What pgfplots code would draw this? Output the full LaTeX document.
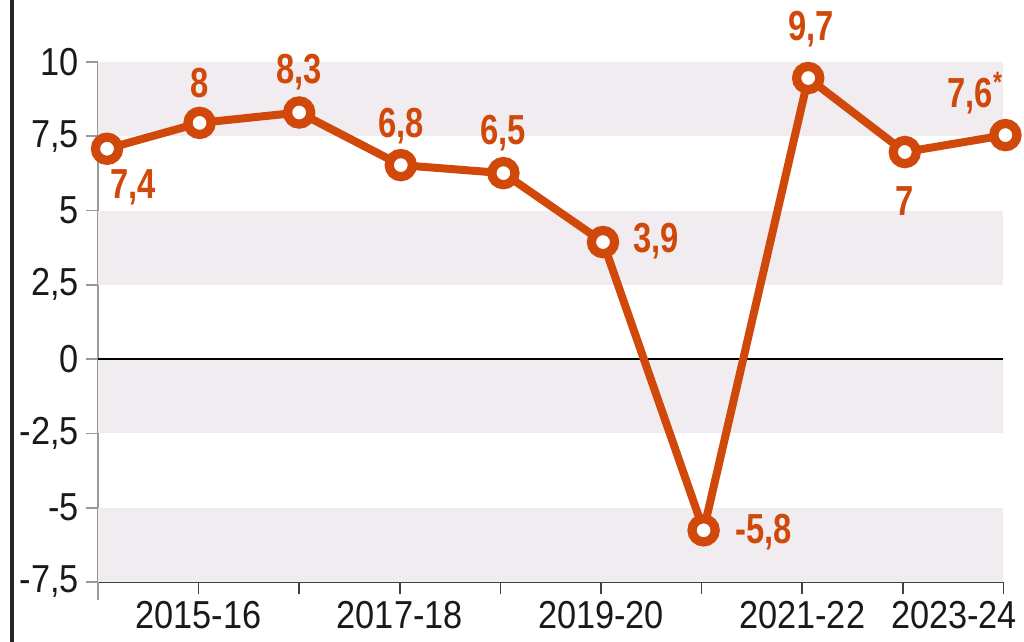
\documentclass[border=0pt]{standalone}
\usepackage{fontspec}
\setmainfont{Liberation Sans}
\newfontfamily\ticfont[FakeStretch=0.88]{Liberation Sans}
\newfontfamily\labfont[FakeStretch=0.78]{Liberation Sans}
\usepackage{pgfplots}
\pgfplotsset{compat=1.18}
\usepackage{pgfplotstable}
\definecolor{gdp}{RGB}{208,73,10}
\definecolor{band}{RGB}{240,236,239}

\pgfplotstableread{
x y dx dy label
0.09 7.08 13 -19.5 {7,4}
1.01 7.95 0 20 {8}
2.00 8.30 0 20 {8,3}
3.01 6.53 0 19.5 {6,8}
4.03 6.26 0 20 {6,5}
5.02 3.94 26.5 0.5 {3,9}
6.02 -5.76 30 -1 {-5,8}
7.06 9.46 1.5 24.5 {9,7}
8.02 6.97 0 -24.5 {7}
9.02 7.54 -15 21 {7,6\textsuperscript{*}}
}\gdpdata

\begin{document}
\begin{tikzpicture}
\draw[line width=2pt, black!85] (-43pt,-30pt) -- (-43pt,291pt);
\begin{axis}[
  at={(0,0)}, anchor=south west,
  scale only axis, width=452.7pt, height=260pt,
  xmin=0, xmax=9, ymin=-7.5, ymax=10,
  clip=false, set layers=standard,
  axis lines*=left, axis line style={-},
  x axis line style={black!75, line width=1pt},
  y axis line style={black!40, line width=1pt},
  tick align=outside, major tick length=6pt,
  xtick style={black!75, line width=0.8pt},
  ytick style={black!40, line width=0.8pt},
  xtick={0,...,9},
  xticklabels={,2015-16,,2017-18,,2019-20,,2021-22,,},
  extra x ticks={8.51},
  extra x tick labels={2023-24},
  extra x tick style={tick style={draw=none}},
  ytick={-7.5,-5,-2.5,0,2.5,5,7.5,10},
  yticklabels={{-7,5},{-5},{-2,5},{0},{2,5},{5},{7,5},{10}},
  ticklabel style={font=\ticfont\fontsize{19.5pt}{20pt}\selectfont, text=black!90},
]
\fill[band, on layer=axis background] (axis cs:0,7.5) rectangle (axis cs:9,10);
\fill[band, on layer=axis background] (axis cs:0,2.5) rectangle (axis cs:9,5);
\fill[band, on layer=axis background] (axis cs:0,-2.5) rectangle (axis cs:9,0);
\fill[band, on layer=axis background] (axis cs:0,-7.5) rectangle (axis cs:9,-5);
\draw[black, line width=1.2pt, on layer=axis grid] (axis cs:0,0) -- (axis cs:9,0);
\addplot[gdp, line width=4pt, mark=*, mark size=5.8pt,
  mark options={fill=white, draw=gdp, line width=4.6pt},
  point meta=explicit symbolic,
  visualization depends on={\thisrow{dx}\as\dx},
  visualization depends on={\thisrow{dy}\as\dy},
  nodes near coords,
  every node near coord/.append style={anchor=center, xshift=\dx pt, yshift=\dy pt,
    font=\labfont\bfseries\fontsize{21pt}{22pt}\selectfont, text=gdp, inner sep=0pt},
] table[x=x, y=y, meta=label] {\gdpdata};
\end{axis}
\draw[black!40, line width=1pt] (0,0) -- (0,-9pt);
\pgfresetboundingbox
\useasboundingbox (-49pt,-30pt) rectangle (463pt,291pt);
\end{tikzpicture}
\end{document}
